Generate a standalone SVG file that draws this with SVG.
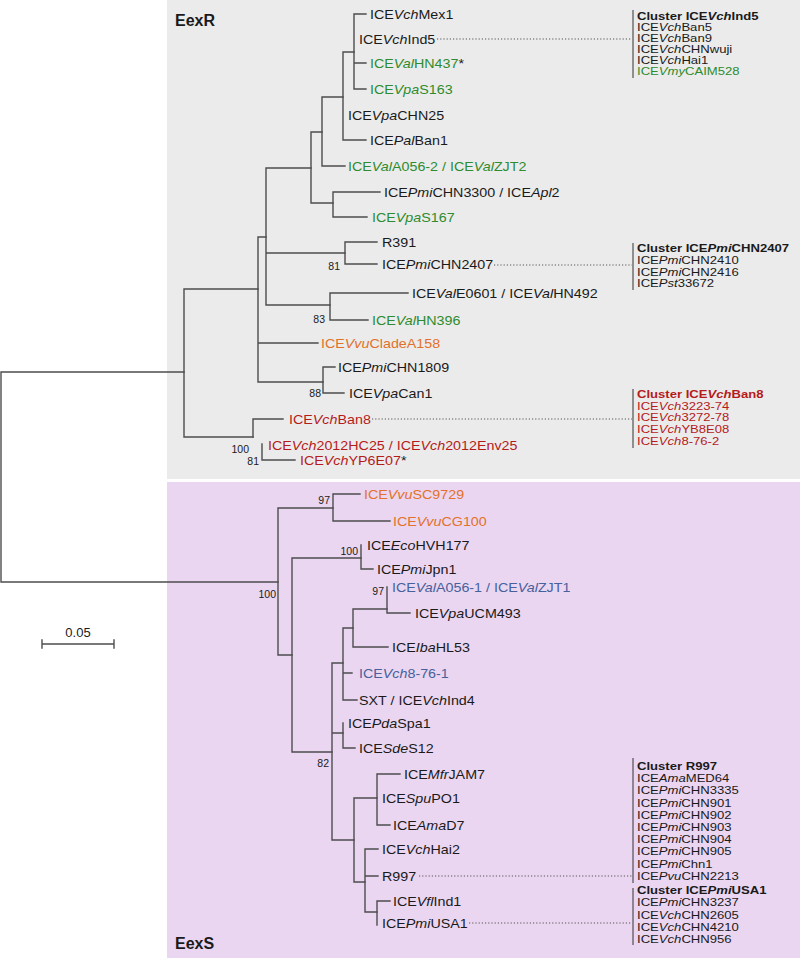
<svg xmlns="http://www.w3.org/2000/svg" width="800" height="958" viewBox="0 0 800 958">
<style>
.br{stroke:#4d4d4d;stroke-width:1.4;fill:none;stroke-linecap:square}
.dt{stroke:#555;stroke-width:1;fill:none;stroke-dasharray:1.2,2}
.bar{stroke:#333;stroke-width:1;fill:none}
text{font-family:"Liberation Sans",Arial,sans-serif;fill:#1a1a1a}
.lf{font-size:13px}
.bs{font-size:10.5px;text-anchor:end}
.cl{font-size:11.2px}
.hd{font-size:16px;font-weight:bold}
.i{font-style:italic}
.g{fill:#2e8b2e}
.o{fill:#e2712a}
.r{fill:#b51b1b}
.b{fill:#46619c}
.k{fill:#1a1a1a}
</style>
<rect x="0" y="0" width="800" height="958" fill="#ffffff"/>
<rect id="panel-eexr" x="167" y="0" width="633" height="479" fill="#ebebeb"/>
<rect id="panel-eexs" x="167" y="482" width="633" height="476" fill="#ebd6f1"/>
<text class="hd" x="175" y="26">EexR</text>
<text class="hd" x="175" y="949">EexS</text>

<g id="connectors">
<path class="br" d="M1,372V582M1,372H184M1,582H278"/>
<path class="br" d="M184,289V437M184,289H258M184,437H253"/>
<path class="br" d="M258,237V382M258,237H266M258,343H318M258,382H323"/>
<path class="br" d="M266,168V305M266,168H311M266,253H345M266,305H330"/>
<path class="br" d="M311,132V203M311,132H322M311,203H333"/>
<path class="br" d="M322,97V166M322,97H343M322,166H345"/>
<path class="br" d="M343,52V140M343,52H354M343,140H366"/>
<path class="br" d="M354,14V89M354,14H366M354,63H366M354,89H366"/>
<path class="br" d="M333,192V217M333,192H380M333,217H367"/>
<path class="br" d="M345,242V264M345,242H377M345,264H377"/>
<path class="br" d="M330,293V320M330,293H408M330,320H368"/>
<path class="br" d="M323,367V393M323,367H335M323,393H344"/>
<path class="br" d="M253,419V437M253,419H283"/>
<path class="br" d="M262,444V460M262,460H295"/>
<path class="br" d="M278,508V655M278,508H333M278,655H292"/>
<path class="br" d="M333,494V521M333,494H360M333,521H390"/>
<path class="br" d="M292,558V752M292,558H361M292,752H332"/>
<path class="br" d="M361,545V569M361,569H373"/>
<path class="br" d="M332,663V840M332,663H343M332,733H343M332,840H354"/>
<path class="br" d="M343,628V700M343,628H353M343,673H352M343,700H357"/>
<path class="br" d="M353,609V647M353,609H387M353,647H388"/>
<path class="br" d="M387,587V613M387,613H410"/>
<path class="br" d="M343,723V748M343,748H355"/>
<path class="br" d="M354,798V882M354,798H377M354,882H365"/>
<path class="br" d="M377,774V825M377,774H400M377,825H390"/>
<path class="br" d="M365,849V912M365,849H378M365,876H378M365,912H377"/>
<path class="br" d="M377,901V925M377,901H390"/>
<path class="dt" d="M437,39H632"/>
<path class="dt" d="M494,265H632"/>
<path class="dt" d="M372,419H632"/>
<path class="dt" d="M419,876H632"/>
<path class="dt" d="M469,923H632"/>
</g>

<g id="scale">
<path class="br" d="M42,644H114M42,640V648M114,640V648"/>
<text x="78" y="637" font-size="13" text-anchor="middle">0.05</text>
</g>

<g id="bootstrap">
<text class="bs" x="340" y="270">81</text>
<text class="bs" x="325" y="323">83</text>
<text class="bs" x="321" y="397">88</text>
<text class="bs" x="249" y="453">100</text>
<text class="bs" x="259" y="465">81</text>
<text class="bs" x="330" y="504">97</text>
<text class="bs" x="276" y="598">100</text>
<text class="bs" x="358" y="555">100</text>
<text class="bs" x="384" y="595">97</text>
<text class="bs" x="329" y="767">82</text>
</g>

<g id="n-vchmex1"><text class="lf" transform="translate(370,19) scale(1.1,1)">ICE<tspan class="i">Vch</tspan>Mex1</text></g>
<g id="n-vchind5"><text class="lf" transform="translate(359,44) scale(1.1,1)">ICE<tspan class="i">Vch</tspan>Ind5</text></g>
<g id="n-valhn437"><text class="lf g" transform="translate(370,68) scale(1.1,1)">ICE<tspan class="i">Val</tspan>HN437<tspan class="k">*</tspan></text></g>
<g id="n-vpas163"><text class="lf g" transform="translate(370,94) scale(1.1,1)">ICE<tspan class="i">Vpa</tspan>S163</text></g>
<g id="n-vpachn25"><text class="lf" transform="translate(348,120) scale(1.1,1)">ICE<tspan class="i">Vpa</tspan>CHN25</text></g>
<g id="n-palban1"><text class="lf" transform="translate(370,145) scale(1.1,1)">ICE<tspan class="i">Pal</tspan>Ban1</text></g>
<g id="n-vala0562"><text class="lf g" transform="translate(348,171) scale(1.1,1)">ICE<tspan class="i">Val</tspan>A056-2 / ICE<tspan class="i">Val</tspan>ZJT2</text></g>
<g id="n-pmichn3300"><text class="lf" transform="translate(384,197) scale(1.1,1)">ICE<tspan class="i">Pmi</tspan>CHN3300 / ICE<tspan class="i">Apl</tspan>2</text></g>
<g id="n-vpas167"><text class="lf g" transform="translate(372,222) scale(1.1,1)">ICE<tspan class="i">Vpa</tspan>S167</text></g>
<g id="n-r391"><text class="lf" transform="translate(382,247) scale(1.1,1)">R391</text></g>
<g id="n-pmichn2407"><text class="lf" transform="translate(382,269) scale(1.1,1)">ICE<tspan class="i">Pmi</tspan>CHN2407</text></g>
<g id="n-vale0601"><text class="lf" transform="translate(412,298) scale(1.1,1)">ICE<tspan class="i">Val</tspan>E0601 / ICE<tspan class="i">Val</tspan>HN492</text></g>
<g id="n-valhn396"><text class="lf g" transform="translate(372,325) scale(1.1,1)">ICE<tspan class="i">Val</tspan>HN396</text></g>
<g id="n-vvucladea158"><text class="lf o" transform="translate(321,348) scale(1.1,1)">ICE<tspan class="i">Vvu</tspan>CladeA158</text></g>
<g id="n-pmichn1809"><text class="lf" transform="translate(338,372) scale(1.1,1)">ICE<tspan class="i">Pmi</tspan>CHN1809</text></g>
<g id="n-vpacan1"><text class="lf" transform="translate(349,398) scale(1.1,1)">ICE<tspan class="i">Vpa</tspan>Can1</text></g>
<g id="n-vchban8"><text class="lf r" transform="translate(289,424) scale(1.1,1)">ICE<tspan class="i">Vch</tspan>Ban8</text></g>
<g id="n-vch2012hc25"><text class="lf r" transform="translate(268,450) scale(1.1,1)">ICE<tspan class="i">Vch</tspan>2012HC25 / ICE<tspan class="i">Vch</tspan>2012Env25</text></g>
<g id="n-vchyp6e07"><text class="lf r" transform="translate(300,465) scale(1.1,1)">ICE<tspan class="i">Vch</tspan>YP6E07<tspan class="k">*</tspan></text></g>

<g id="n-vvusc9729"><text class="lf o" transform="translate(364,499) scale(1.1,1)">ICE<tspan class="i">Vvu</tspan>SC9729</text></g>
<g id="n-vvucg100"><text class="lf o" transform="translate(393,526) scale(1.1,1)">ICE<tspan class="i">Vvu</tspan>CG100</text></g>
<g id="n-ecohvh177"><text class="lf" transform="translate(367,550) scale(1.1,1)">ICE<tspan class="i">Eco</tspan>HVH177</text></g>
<g id="n-pmijpn1"><text class="lf" transform="translate(377,574) scale(1.1,1)">ICE<tspan class="i">Pmi</tspan>Jpn1</text></g>
<g id="n-vala0561"><text class="lf b" transform="translate(392,592) scale(1.1,1)">ICE<tspan class="i">Val</tspan>A056-1 / ICE<tspan class="i">Val</tspan>ZJT1</text></g>
<g id="n-vpaucm493"><text class="lf" transform="translate(415,618) scale(1.1,1)">ICE<tspan class="i">Vpa</tspan>UCM493</text></g>
<g id="n-ibahl53"><text class="lf" transform="translate(392,652) scale(1.1,1)">ICE<tspan class="i">Iba</tspan>HL53</text></g>
<g id="n-vch8761"><text class="lf b" transform="translate(359,678) scale(1.1,1)">ICE<tspan class="i">Vch</tspan>8-76-1</text></g>
<g id="n-sxt"><text class="lf" transform="translate(359,705) scale(1.1,1)">SXT / ICE<tspan class="i">Vch</tspan>Ind4</text></g>
<g id="n-pdaspa1"><text class="lf" transform="translate(348,728) scale(1.1,1)">ICE<tspan class="i">Pda</tspan>Spa1</text></g>
<g id="n-sdes12"><text class="lf" transform="translate(359,753) scale(1.1,1)">ICE<tspan class="i">Sde</tspan>S12</text></g>
<g id="n-mfrjam7"><text class="lf" transform="translate(404,779) scale(1.1,1)">ICE<tspan class="i">Mfr</tspan>JAM7</text></g>
<g id="n-spupo1"><text class="lf" transform="translate(382,803) scale(1.1,1)">ICE<tspan class="i">Spu</tspan>PO1</text></g>
<g id="n-amad7"><text class="lf" transform="translate(393,830) scale(1.1,1)">ICE<tspan class="i">Ama</tspan>D7</text></g>
<g id="n-vchhai2"><text class="lf" transform="translate(382,854) scale(1.1,1)">ICE<tspan class="i">Vch</tspan>Hai2</text></g>
<g id="n-r997"><text class="lf" transform="translate(382,881) scale(1.1,1)">R997</text></g>
<g id="n-vflind1"><text class="lf" transform="translate(393,906) scale(1.1,1)">ICE<tspan class="i">Vfl</tspan>Ind1</text></g>
<g id="n-pmiusa1"><text class="lf" transform="translate(382,928) scale(1.1,1)">ICE<tspan class="i">Pmi</tspan>USA1</text></g>

<g id="cluster-vchind5">
<path class="bar" d="M633,10V78"/>
<text class="cl" transform="translate(637,20) scale(1.17,1)" font-weight="bold">Cluster ICE<tspan class="i">Vch</tspan>Ind5</text>
<text class="cl" transform="translate(637,31) scale(1.17,1)">ICE<tspan class="i">Vch</tspan>Ban5</text>
<text class="cl" transform="translate(637,42) scale(1.17,1)">ICE<tspan class="i">Vch</tspan>Ban9</text>
<text class="cl" transform="translate(637,53) scale(1.17,1)">ICE<tspan class="i">Vch</tspan>CHNwuji</text>
<text class="cl" transform="translate(637,64) scale(1.17,1)">ICE<tspan class="i">Vch</tspan>Hai1</text>
<text class="cl g" transform="translate(637,75) scale(1.17,1)">ICE<tspan class="i">Vmy</tspan>CAIM528</text>
</g>
<g id="cluster-pmichn2407">
<path class="bar" d="M633,243V290"/>
<text class="cl" transform="translate(637,252) scale(1.17,1)" font-weight="bold">Cluster ICE<tspan class="i">Pmi</tspan>CHN2407</text>
<text class="cl" transform="translate(637,264) scale(1.17,1)">ICE<tspan class="i">Pmi</tspan>CHN2410</text>
<text class="cl" transform="translate(637,276) scale(1.17,1)">ICE<tspan class="i">Pmi</tspan>CHN2416</text>
<text class="cl" transform="translate(637,287) scale(1.17,1)">ICE<tspan class="i">Pst</tspan>33672</text>
</g>
<g id="cluster-vchban8">
<path class="bar" d="M633,389V448"/>
<text class="cl r" transform="translate(637,398) scale(1.17,1)" font-weight="bold">Cluster ICE<tspan class="i">Vch</tspan>Ban8</text>
<text class="cl r" transform="translate(637,409.7) scale(1.17,1)">ICE<tspan class="i">Vch</tspan>3223-74</text>
<text class="cl r" transform="translate(637,421.4) scale(1.17,1)">ICE<tspan class="i">Vch</tspan>3272-78</text>
<text class="cl r" transform="translate(637,433.1) scale(1.17,1)">ICE<tspan class="i">Vch</tspan>YB8E08</text>
<text class="cl r" transform="translate(637,444.8) scale(1.17,1)">ICE<tspan class="i">Vch</tspan>8-76-2</text>
</g>
<g id="cluster-r997">
<path class="bar" d="M633,758V883"/>
<text class="cl" transform="translate(637,770) scale(1.17,1)" font-weight="bold">Cluster R997</text>
<text class="cl" transform="translate(637,782.2) scale(1.17,1)">ICE<tspan class="i">Ama</tspan>MED64</text>
<text class="cl" transform="translate(637,794.4) scale(1.17,1)">ICE<tspan class="i">Pmi</tspan>CHN3335</text>
<text class="cl" transform="translate(637,806.6) scale(1.17,1)">ICE<tspan class="i">Pmi</tspan>CHN901</text>
<text class="cl" transform="translate(637,818.8) scale(1.17,1)">ICE<tspan class="i">Pmi</tspan>CHN902</text>
<text class="cl" transform="translate(637,831) scale(1.17,1)">ICE<tspan class="i">Pmi</tspan>CHN903</text>
<text class="cl" transform="translate(637,843.2) scale(1.17,1)">ICE<tspan class="i">Pmi</tspan>CHN904</text>
<text class="cl" transform="translate(637,855.4) scale(1.17,1)">ICE<tspan class="i">Pmi</tspan>CHN905</text>
<text class="cl" transform="translate(637,867.6) scale(1.17,1)">ICE<tspan class="i">Pmi</tspan>Chn1</text>
<text class="cl" transform="translate(637,879.8) scale(1.17,1)">ICE<tspan class="i">Pvu</tspan>CHN2213</text>
</g>
<g id="cluster-pmiusa1">
<path class="bar" d="M633,888V945"/>
<text class="cl" transform="translate(637,894) scale(1.17,1)" font-weight="bold">Cluster ICE<tspan class="i">Pmi</tspan>USA1</text>
<text class="cl" transform="translate(637,906.3) scale(1.17,1)">ICE<tspan class="i">Pmi</tspan>CHN3237</text>
<text class="cl" transform="translate(637,918.6) scale(1.17,1)">ICE<tspan class="i">Vch</tspan>CHN2605</text>
<text class="cl" transform="translate(637,930.9) scale(1.17,1)">ICE<tspan class="i">Vch</tspan>CHN4210</text>
<text class="cl" transform="translate(637,943.2) scale(1.17,1)">ICE<tspan class="i">Vch</tspan>CHN956</text>
</g>
</svg>
